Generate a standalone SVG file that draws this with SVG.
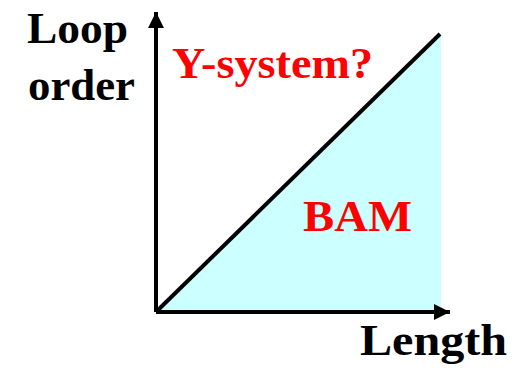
<svg xmlns="http://www.w3.org/2000/svg" width="519" height="368" viewBox="0 0 519 368">
<style>
.lbl{font-family:"Liberation Serif","Times New Roman",serif;font-weight:bold;font-size:45px;fill:#000}
.red{fill:#ff0000}
.ax{stroke:#000;stroke-width:4;fill:none}
</style>
<defs>
<marker id="ah" viewBox="0 0 10 10" refX="10" refY="5" markerWidth="4" markerHeight="4" markerUnits="strokeWidth" orient="auto"><path d="M0,0 L10,5 L0,10 Z" fill="#000"/></marker>
</defs>
<g id="region">
<polygon points="158,312 441,32 441,312" fill="#ccffff"/>
</g>
<g id="connectors">
<line class="ax" x1="156" y1="312" x2="156" y2="12" marker-end="url(#ah)"/>
<line class="ax" x1="156" y1="312" x2="450" y2="312" marker-end="url(#ah)"/>
<line class="ax" x1="158" y1="310" x2="440" y2="34"/>
</g>
<g id="ylabel"><text class="lbl" x="27" y="43" textLength="101" lengthAdjust="spacingAndGlyphs">Loop</text><text class="lbl" x="28" y="100" textLength="107" lengthAdjust="spacingAndGlyphs">order</text></g>
<g id="xlabel"><text class="lbl" x="360" y="355" textLength="147" lengthAdjust="spacingAndGlyphs">Length</text></g>
<g id="ysys"><text class="lbl red" x="172" y="78" textLength="201" lengthAdjust="spacingAndGlyphs">Y-system?</text></g>
<g id="bam"><text class="lbl red" x="303" y="231" textLength="109" lengthAdjust="spacingAndGlyphs">BAM</text></g>
</svg>
